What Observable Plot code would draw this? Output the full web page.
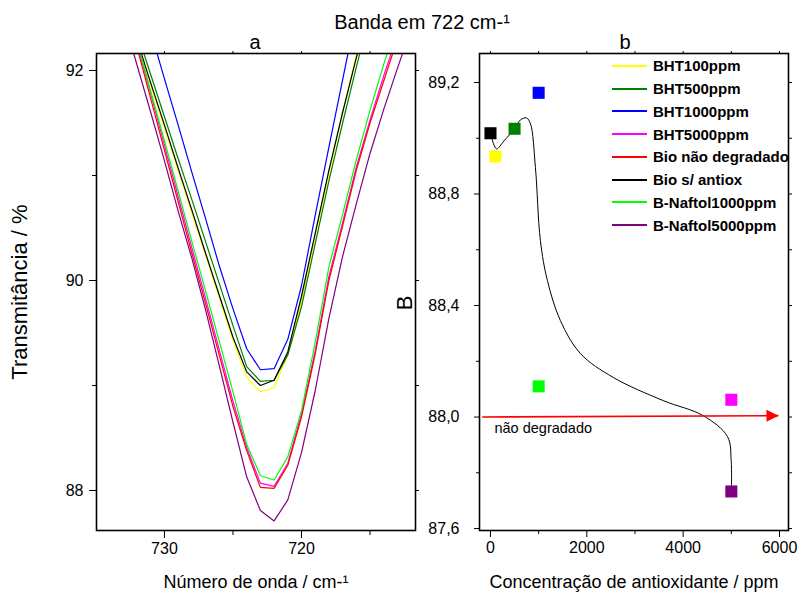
<!DOCTYPE html>
<html><head><meta charset="utf-8">
<script src="https://cdn.jsdelivr.net/npm/d3@7"></script>
<script src="https://cdn.jsdelivr.net/npm/@observablehq/plot@0.6"></script>
<style>
body{margin:0;background:#fff;}
#wrap{position:relative;width:801px;height:593px;font-family:"Liberation Sans",Arial,sans-serif;color:#000;overflow:hidden;}
#wrap svg{position:absolute;top:0;}
.t{position:absolute;transform:translate(-50%,-50%);white-space:nowrap;font-size:20px;}
.rot{position:absolute;transform:translate(-50%,-50%) rotate(-90deg);white-space:nowrap;font-size:22px;}
#legend{position:absolute;left:612px;top:54.6px;font-weight:bold;font-size:15px;}
.row{height:22.75px;display:flex;align-items:center;}
.sw{width:35px;height:2px;margin-right:6px;}
</style></head><body><div id="wrap"></div>
<script>
// ---------- panel a : spectra ----------
const wavenumbers = [733,732,731,730,729,728,727,726,725,724,723,722,721,720,719,718,717,716,715,714,713,712,711];
const bht100       = [92.66,92.26,91.86,91.45,91.05,90.64,90.24,89.83,89.43,89.08,88.94,88.98,89.29,89.80,90.42,91.02,91.60,92.15,92.65,93.10,93.50,93.90,94.30];
const bht500       = [92.76,92.36,91.96,91.56,91.16,90.77,90.37,89.97,89.57,89.18,89.04,89.05,89.29,89.75,90.35,90.95,91.50,92.03,92.55,93.00,93.40,93.80,94.20];
const bht1000      = [93.25,92.81,92.37,91.92,91.48,91.03,90.59,90.14,89.73,89.35,89.15,89.16,89.44,89.95,90.62,91.27,91.91,92.55,93.15,93.70,94.20,94.60,95.00];
const bht5000      = [92.74,92.26,91.78,91.29,90.80,90.31,89.83,89.34,88.85,88.41,88.07,88.04,88.26,88.73,89.33,90.04,90.55,91.08,91.53,91.95,92.34,92.72,93.10];
const bioNaoDeg    = [92.70,92.22,91.73,91.24,90.75,90.26,89.78,89.29,88.80,88.38,88.03,88.02,88.24,88.70,89.30,90.00,90.52,91.05,91.50,91.90,92.30,92.70,93.10];
const bioSemAntiox = [92.70,92.29,91.88,91.48,91.07,90.67,90.26,89.86,89.46,89.13,89.00,89.05,89.32,89.85,90.45,91.05,91.60,92.12,92.60,93.05,93.45,93.85,94.20];
const naftol1000   = [92.75,92.28,91.80,91.33,90.85,90.37,89.90,89.42,88.94,88.44,88.14,88.10,88.32,88.76,89.41,90.13,90.63,91.15,91.62,92.06,92.45,92.80,93.15];
const naftol5000   = [92.51,92.05,91.60,91.14,90.66,90.21,89.72,89.19,88.65,88.13,87.81,87.71,87.91,88.36,88.95,89.64,90.23,90.73,91.21,91.63,92.02,92.40,92.78];

const seriesNames  = ["BHT100ppm","BHT500ppm","BHT1000ppm","BHT5000ppm","Bio não degradado","Bio s/ antiox","B-Naftol1000ppm","B-Naftol5000ppm"];
const seriesColors = ["#ffff00","#008000","#0000ff","#ff00ff","#ff0000","#000000","#00ff00","#800080"];
const seriesValues = [bht100,bht500,bht1000,bht5000,bioNaoDeg,bioSemAntiox,naftol1000,naftol5000];

const xTicksA = [730,720], xMinorA = [725,715];
const yTicksA = [92,90,88], yMinorA = [91,89];

// ---------- panel b ----------
const concentrations = [0,100,500,1000,5000,1000,5000];
const bValues        = [89.018,88.935,89.034,89.163,88.062,88.11,87.733];
const pointNames  = ["Bio s/ antiox","BHT100ppm","BHT500ppm","BHT1000ppm","BHT5000ppm","B-Naftol1000ppm","B-Naftol5000ppm"];
const pointColors = ["#000000","#ffff00","#008000","#0000ff","#ff00ff","#00ff00","#800080"];

const curveX = [0,125,277,500,623,747,830,933,1036,1181,1451,1865,2549,3585,4414,4920,4997,5000];
const curveY = [89.018,88.962,88.99,89.034,89.066,89.073,89.052,88.895,88.633,88.49,88.346,88.228,88.142,88.059,88.005,87.93,87.844,87.733];

const arrowX = [-172, 5979];
const arrowY = [88.0, 88.005];
const annotText = ["não degradado"], annotX = [83], annotY = [87.959];

const xTicksB = [0,2000,4000,6000], xMinorB = [1000,3000,5000];
const yTicksB = [89.2,88.8,88.4,88.0,87.6], yMinorB = [89.0,88.6,88.2,87.8];

// ---------- build ----------
const spectra = seriesValues.flatMap((vals,i) => vals.map((v,j) => ({w: wavenumbers[j], v, name: seriesNames[i], color: seriesColors[i]})));
const points = concentrations.map((c,i) => ({c, b: bValues[i], name: pointNames[i], color: pointColors[i]}));
const curve = curveX.map((x,i) => ({x, y: curveY[i]}));
const arrow = [{x1: arrowX[0], y1: arrowY[0], x2: arrowX[1], y2: arrowY[1]}];
const annot = annotText.map((t,i) => ({t, x: annotX[i], y: annotY[i]}));

const FONT = '"Liberation Sans", Arial, sans-serif';
const baseStyle = {fontFamily: FONT, fontSize: "16px", background: "transparent", overflow: "visible", color: "#000"};
const blank = () => "";

const left = Plot.plot({
  width: 420, height: 593,
  marginLeft: 96, marginRight: 5, marginTop: 53, marginBottom: 63,
  x: {domain: [734.96, 711.68]},
  y: {domain: [87.619, 92.162]},
  color: {type: "identity"},
  style: baseStyle,
  marks: [
    Plot.line(spectra, {x: "w", y: "v", z: "name", stroke: "color", strokeWidth: 1.2, clip: true}),
    Plot.frame({stroke: "#000", strokeWidth: 1.6}),
    Plot.axisX({ticks: xTicksA, tickSize: 8, tickPadding: 4, tickFormat: d => String(d), label: null}),
    Plot.axisX({ticks: xMinorA, tickSize: 5, tickFormat: blank, label: null}),
    Plot.axisX({ticks: [], label: "Número de onda / cm-¹", labelAnchor: "center", labelOffset: 57, fontSize: 18, labelArrow: "none"}),
    Plot.axisX({anchor: "top", ticks: [...xTicksA, ...xMinorA], tickSize: 3, tickFormat: blank, label: null}),
    Plot.axisY({ticks: yTicksA, tickSize: 7, tickPadding: 6, tickFormat: d => String(d), label: null}),
    Plot.axisY({ticks: yMinorA, tickSize: 4, tickFormat: blank, label: null}),
    Plot.axisY({ticks: [], label: "Transmitância / %", labelAnchor: "center", labelOffset: 85, fontSize: 22, labelArrow: "none"}),
    Plot.axisY({anchor: "right", ticks: [...yTicksA, ...yMinorA], tickSize: 3, tickFormat: blank, label: null})
  ]
});

function arrowHead(color) {
  const m = d3.create("svg:marker")
    .attr("viewBox", "0 -5 10 10").attr("refX", 10).attr("refY", 0)
    .attr("markerUnits", "userSpaceOnUse")
    .attr("markerWidth", 15).attr("markerHeight", 12)
    .attr("orient", "auto");
  m.append("path").attr("d", "M0,-5L10,0L0,5Z").attr("fill", color).attr("stroke", "none");
  return m.node();
}

const fmtB = d => d.toFixed(1).replace(".", ",");
const right = Plot.plot({
  width: 411, height: 593,
  marginLeft: 89, marginRight: 13, marginTop: 53, marginBottom: 63,
  x: {domain: [-228, 6187]},
  y: {domain: [87.593, 89.304]},
  color: {type: "identity"},
  style: baseStyle,
  marks: [
    Plot.line(curve, {x: "x", y: "y", curve: "catmull-rom", stroke: "#000", strokeWidth: 1}),
    Plot.link(arrow, {x1: "x1", y1: "y1", x2: "x2", y2: "y2", stroke: "#ff0000", strokeWidth: 1.6, markerEnd: arrowHead}),
    Plot.text(annot, {x: "x", y: "y", text: "t", textAnchor: "start", fontSize: 14.5}),
    Plot.dot(points, {x: "c", y: "b", fill: "color", symbol: "square", r: 6.8, stroke: "none"}),
    Plot.frame({stroke: "#000", strokeWidth: 1.6}),
    Plot.axisX({ticks: xTicksB, tickSize: 7, tickPadding: 4, tickFormat: d => String(d), label: null}),
    Plot.axisX({ticks: xMinorB, tickSize: 4, tickFormat: blank, label: null}),
    Plot.axisX({ticks: [], label: "Concentração de antioxidante / ppm", labelAnchor: "center", labelOffset: 57, fontSize: 18, labelArrow: "none"}),
    Plot.axisX({anchor: "top", ticks: [...xTicksB, ...xMinorB], tickSize: 3, tickFormat: blank, label: null}),
    Plot.axisY({ticks: yTicksB, tickSize: 5, tickPadding: 15, tickFormat: fmtB, label: null}),
    Plot.axisY({ticks: yMinorB, tickSize: 3, tickFormat: blank, label: null}),
    Plot.axisY({anchor: "right", ticks: [...yTicksB, ...yMinorB], tickSize: 3, tickFormat: blank, label: null})
  ]
});

const wrap = document.getElementById("wrap");
left.style.left = "0px";
right.style.left = "390px";
wrap.appendChild(left);
wrap.appendChild(right);

function addText(txt, x, y, cls = "t") {
  const d = document.createElement("div");
  d.className = cls; d.textContent = txt;
  d.style.left = x + "px"; d.style.top = y + "px";
  wrap.appendChild(d);
}
addText("Banda em 722 cm-¹", 422, 22);
addText("a", 255, 42);
addText("b", 625, 42);
addText("B", 405, 303, "rot");

const legend = document.createElement("div");
legend.id = "legend";
seriesNames.forEach((n,i) => {
  const r = document.createElement("div"); r.className = "row";
  const s = document.createElement("span"); s.className = "sw"; s.style.background = seriesColors[i];
  const l = document.createElement("span"); l.textContent = n;
  r.appendChild(s); r.appendChild(l); legend.appendChild(r);
});
wrap.appendChild(legend);
</script></body></html>
